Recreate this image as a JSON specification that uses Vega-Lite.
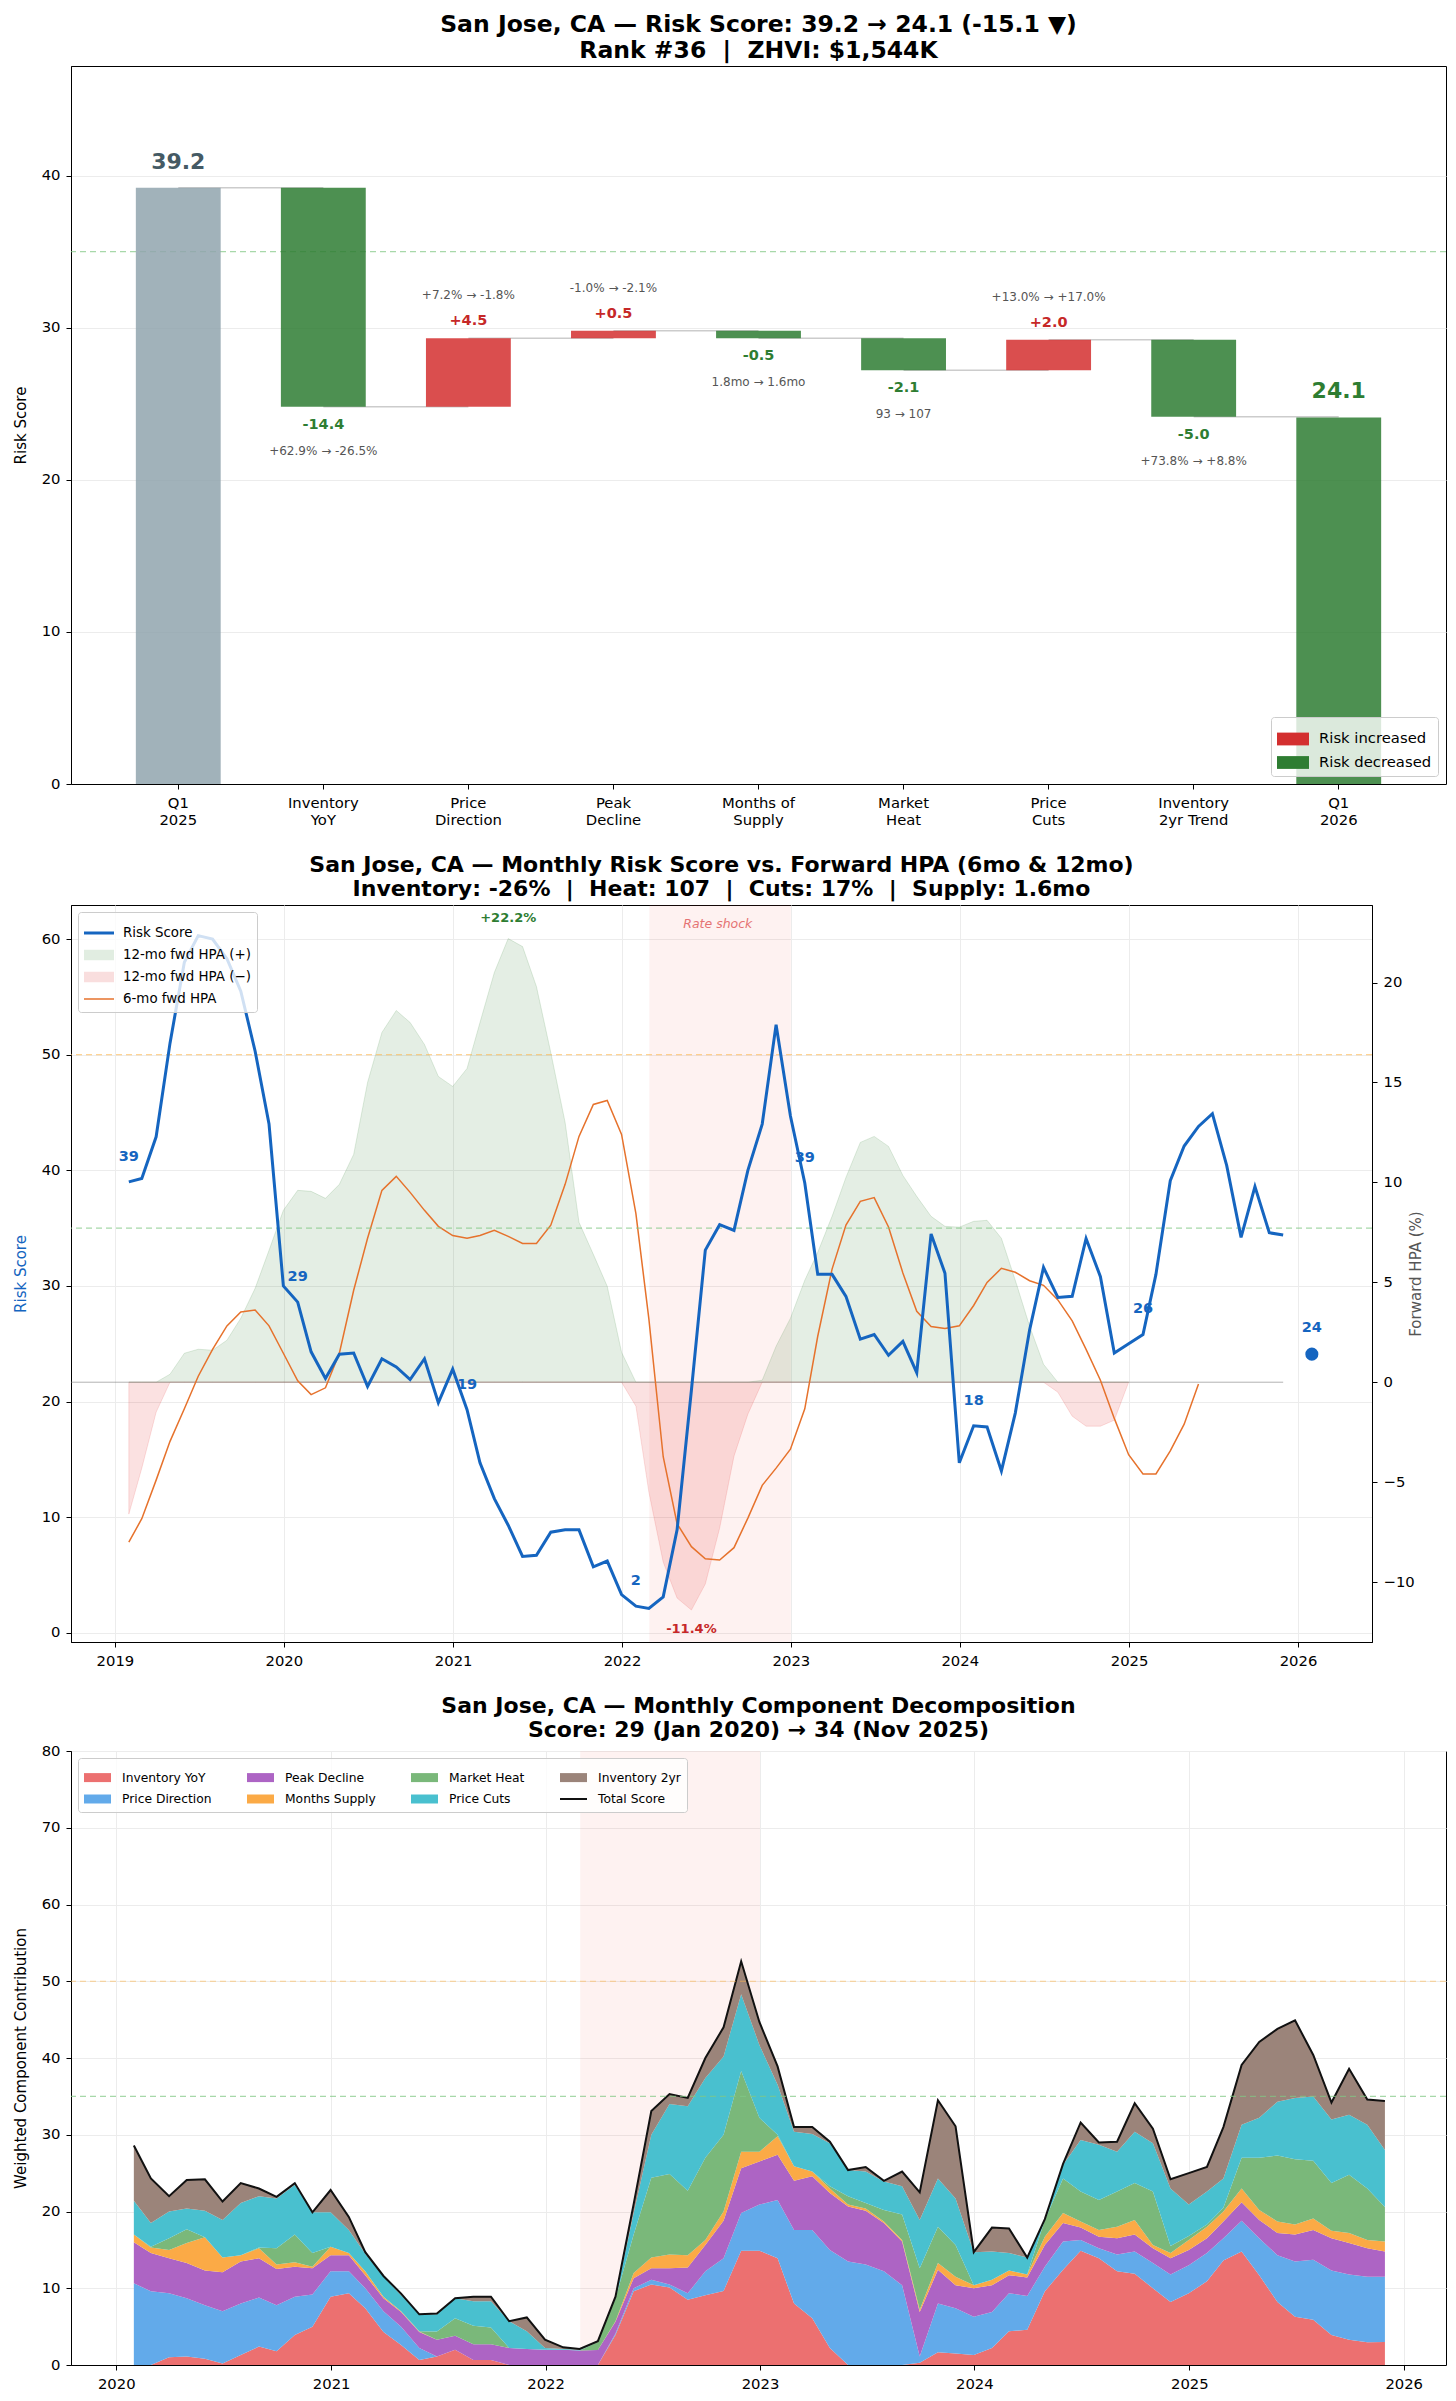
{
"$schema": "https://vega.github.io/schema/vega-lite/v6.json",
"background": "white",
"padding": {"left": 12, "top": 12, "right": 4, "bottom": 4},
"spacing": 25,
"config": {
 "font": "DejaVu Sans",
 "view": {"stroke": "#000000", "strokeWidth": 1},
 "axis": {"labelFontSize": 14.8, "labelColor": "#000000", "titleFontSize": 15, "titleFontWeight": "normal", "titleColor": "#000000", "domainColor": "#000000", "tickColor": "#000000", "tickSize": 5, "gridColor": "#ececec", "labelPadding": 6},
 "axisY": {"titlePadding": 13},
 "title": {"fontSize": 22, "fontWeight": "bold", "color": "#000000", "lineHeight": 24, "frame": "group", "anchor": "middle", "offset": 4},
 "legend": {"fillColor": "rgba(255,255,255,0.8)", "strokeColor": "#cccccc", "cornerRadius": 3, "padding": 6, "labelColor": "#000000", "symbolStrokeWidth": 0, "symbolOpacity": 1}
},
"datasets": {
 "wf": [
  {"cat": "Q1\n2025", "next": "Inventory\nYoY", "s": 0, "e": 39.2, "dir": "start", "lab": "39.2"},
  {"cat": "Inventory\nYoY", "next": "Price\nDirection", "s": 39.2, "e": 24.8, "dir": "Risk decreased", "lab": "-14.4", "det": "+62.9% → -26.5%"},
  {"cat": "Price\nDirection", "next": "Peak\nDecline", "s": 24.8, "e": 29.3, "dir": "Risk increased", "lab": "+4.5", "det": "+7.2% → -1.8%"},
  {"cat": "Peak\nDecline", "next": "Months of\nSupply", "s": 29.3, "e": 29.8, "dir": "Risk increased", "lab": "+0.5", "det": "-1.0% → -2.1%"},
  {"cat": "Months of\nSupply", "next": "Market\nHeat", "s": 29.8, "e": 29.3, "dir": "Risk decreased", "lab": "-0.5", "det": "1.8mo → 1.6mo"},
  {"cat": "Market\nHeat", "next": "Price\nCuts", "s": 29.3, "e": 27.2, "dir": "Risk decreased", "lab": "-2.1", "det": "93 → 107"},
  {"cat": "Price\nCuts", "next": "Inventory\n2yr Trend", "s": 27.2, "e": 29.2, "dir": "Risk increased", "lab": "+2.0", "det": "+13.0% → +17.0%"},
  {"cat": "Inventory\n2yr Trend", "next": "Q1\n2026", "s": 29.2, "e": 24.15, "dir": "Risk decreased", "lab": "-5.0", "det": "+73.8% → +8.8%"},
  {"cat": "Q1\n2026", "s": 0, "e": 24.1, "dir": "end", "lab": "24.1"}
 ],
 "m": [
  {"d":"2019-01-31","r":39.0,"h6":-8.0,"hp":0,"hn":-6.6},
  {"d":"2019-02-28","r":39.3,"h6":-6.83,"hp":0,"hn":-4.3},
  {"d":"2019-03-31","r":42.9,"h6":-4.9,"hp":0,"hn":-1.5},
  {"d":"2019-04-30","r":51.0,"h6":-2.96,"hp":0.4,"hn":0},
  {"d":"2019-05-31","r":58.0,"h6":-1.33,"hp":1.45,"hn":0},
  {"d":"2019-06-30","r":60.3,"h6":0.3,"hp":1.65,"hn":0},
  {"d":"2019-07-31","r":60.0,"h6":1.64,"hp":1.6,"hn":0},
  {"d":"2019-08-31","r":58.3,"h6":2.82,"hp":2.1,"hn":0},
  {"d":"2019-09-30","r":55.5,"h6":3.51,"hp":3.2,"hn":0},
  {"d":"2019-10-31","r":50.3,"h6":3.61,"hp":4.7,"hn":0},
  {"d":"2019-11-30","r":44.0,"h6":2.82,"hp":6.6,"hn":0},
  {"d":"2019-12-31","r":30.0,"h6":1.45,"hp":8.6,"hn":0},
  {"d":"2020-01-31","r":28.6,"h6":0.07,"hp":9.6,"hn":0},
  {"d":"2020-02-29","r":24.3,"h6":-0.62,"hp":9.55,"hn":0},
  {"d":"2020-03-31","r":22.0,"h6":-0.28,"hp":9.2,"hn":0},
  {"d":"2020-04-30","r":24.1,"h6":1.45,"hp":9.9,"hn":0},
  {"d":"2020-05-31","r":24.2,"h6":4.6,"hp":11.4,"hn":0},
  {"d":"2020-06-30","r":21.3,"h6":7.2,"hp":15.0,"hn":0},
  {"d":"2020-07-31","r":23.7,"h6":9.6,"hp":17.5,"hn":0},
  {"d":"2020-08-31","r":23.0,"h6":10.3,"hp":18.6,"hn":0},
  {"d":"2020-09-30","r":21.9,"h6":9.5,"hp":18.0,"hn":0},
  {"d":"2020-10-31","r":23.7,"h6":8.6,"hp":16.9,"hn":0},
  {"d":"2020-11-30","r":19.9,"h6":7.8,"hp":15.3,"hn":0},
  {"d":"2020-12-31","r":22.8,"h6":7.34,"hp":14.8,"hn":0},
  {"d":"2021-01-31","r":19.3,"h6":7.2,"hp":15.7,"hn":0},
  {"d":"2021-02-28","r":14.7,"h6":7.34,"hp":18.0,"hn":0},
  {"d":"2021-03-31","r":11.6,"h6":7.6,"hp":20.5,"hn":0},
  {"d":"2021-04-30","r":9.3,"h6":7.3,"hp":22.2,"hn":0},
  {"d":"2021-05-31","r":6.6,"h6":6.94,"hp":21.8,"hn":0},
  {"d":"2021-06-30","r":6.7,"h6":6.94,"hp":19.8,"hn":0},
  {"d":"2021-07-31","r":8.7,"h6":7.86,"hp":16.5,"hn":0},
  {"d":"2021-08-31","r":8.9,"h6":9.9,"hp":13.0,"hn":0},
  {"d":"2021-09-30","r":8.9,"h6":12.3,"hp":8.0,"hn":0},
  {"d":"2021-10-31","r":5.7,"h6":13.9,"hp":6.4,"hn":0},
  {"d":"2021-11-30","r":6.2,"h6":14.1,"hp":4.8,"hn":0},
  {"d":"2021-12-31","r":3.3,"h6":12.4,"hp":1.5,"hn":0},
  {"d":"2022-01-31","r":2.3,"h6":8.44,"hp":0,"hn":-1.2},
  {"d":"2022-02-28","r":2.1,"h6":3.17,"hp":0,"hn":-5.5},
  {"d":"2022-03-31","r":3.1,"h6":-3.73,"hp":0,"hn":-9.0},
  {"d":"2022-04-30","r":8.9,"h6":-7.08,"hp":0,"hn":-10.8},
  {"d":"2022-05-31","r":21.0,"h6":-8.23,"hp":0,"hn":-11.4},
  {"d":"2022-06-30","r":33.1,"h6":-8.84,"hp":0,"hn":-10.1},
  {"d":"2022-07-31","r":35.3,"h6":-8.9,"hp":0,"hn":-7.3},
  {"d":"2022-08-31","r":34.8,"h6":-8.28,"hp":0,"hn":-3.7},
  {"d":"2022-09-30","r":40.0,"h6":-6.8,"hp":0,"hn":-1.6},
  {"d":"2022-10-31","r":44.0,"h6":-5.16,"hp":0.1,"hn":0},
  {"d":"2022-11-30","r":52.6,"h6":-4.3,"hp":1.8,"hn":0},
  {"d":"2022-12-31","r":44.7,"h6":-3.35,"hp":3.2,"hn":0},
  {"d":"2023-01-31","r":38.9,"h6":-1.33,"hp":5.1,"hn":0},
  {"d":"2023-02-28","r":31.0,"h6":2.3,"hp":6.5,"hn":0},
  {"d":"2023-03-31","r":31.0,"h6":5.66,"hp":8.3,"hn":0},
  {"d":"2023-04-30","r":29.1,"h6":7.86,"hp":10.25,"hn":0},
  {"d":"2023-05-31","r":25.4,"h6":9.05,"hp":12.0,"hn":0},
  {"d":"2023-06-30","r":25.8,"h6":9.24,"hp":12.3,"hn":0},
  {"d":"2023-07-31","r":24.0,"h6":7.77,"hp":11.8,"hn":0},
  {"d":"2023-08-31","r":25.2,"h6":5.47,"hp":10.35,"hn":0},
  {"d":"2023-09-30","r":22.5,"h6":3.55,"hp":9.3,"hn":0},
  {"d":"2023-10-31","r":34.5,"h6":2.79,"hp":8.3,"hn":0},
  {"d":"2023-11-30","r":31.1,"h6":2.69,"hp":7.8,"hn":0},
  {"d":"2023-12-31","r":14.7,"h6":2.82,"hp":7.76,"hn":0},
  {"d":"2024-01-31","r":17.9,"h6":3.84,"hp":8.05,"hn":0},
  {"d":"2024-02-29","r":17.8,"h6":4.99,"hp":8.1,"hn":0},
  {"d":"2024-03-31","r":14.0,"h6":5.7,"hp":7.2,"hn":0},
  {"d":"2024-04-30","r":19.0,"h6":5.5,"hp":5.1,"hn":0},
  {"d":"2024-05-31","r":26.2,"h6":5.08,"hp":2.8,"hn":0},
  {"d":"2024-06-30","r":31.6,"h6":4.85,"hp":0.9,"hn":0},
  {"d":"2024-07-31","r":29.0,"h6":4.12,"hp":0,"hn":-0.5},
  {"d":"2024-08-31","r":29.1,"h6":3.07,"hp":0,"hn":-1.7},
  {"d":"2024-09-30","r":34.1,"h6":1.64,"hp":0,"hn":-2.2},
  {"d":"2024-10-31","r":30.8,"h6":0.1,"hp":0,"hn":-2.2},
  {"d":"2024-11-30","r":24.2,"h6":-1.81,"hp":0,"hn":-1.9},
  {"d":"2024-12-31","r":25.0,"h6":-3.63,"hp":0,"hn":0},
  {"d":"2025-01-31","r":25.8,"h6":-4.59},
  {"d":"2025-02-28","r":31.0,"h6":-4.59},
  {"d":"2025-03-31","r":39.1,"h6":-3.44},
  {"d":"2025-04-30","r":42.1,"h6":-2.1},
  {"d":"2025-05-31","r":43.8,"h6":-0.09},
  {"d":"2025-06-30","r":44.9},
  {"d":"2025-07-31","r":40.4},
  {"d":"2025-08-31","r":34.2},
  {"d":"2025-09-30","r":38.6},
  {"d":"2025-10-31","r":34.6},
  {"d":"2025-11-30","r":34.4}
 ],
 "c": [
  {"d":"2020-01-31","Inventory YoY":0,"Price Direction":10.65,"Peak Decline":5.35,"Months Supply":1.0,"Market Heat":0,"Price Cuts":4.4,"Inventory 2yr":7.2,"T":28.6},
  {"d":"2020-02-29","Inventory YoY":0,"Price Direction":9.6,"Peak Decline":5.0,"Months Supply":0.7,"Market Heat":0.1,"Price Cuts":3.1,"Inventory 2yr":5.8,"T":24.3},
  {"d":"2020-03-31","Inventory YoY":1.0,"Price Direction":8.35,"Peak Decline":4.55,"Months Supply":1.1,"Market Heat":1.5,"Price Cuts":3.5,"Inventory 2yr":2.0,"T":22.0},
  {"d":"2020-04-30","Inventory YoY":1.1,"Price Direction":7.6,"Peak Decline":4.6,"Months Supply":2.6,"Market Heat":1.8,"Price Cuts":2.7,"Inventory 2yr":3.7,"T":24.1},
  {"d":"2020-05-31","Inventory YoY":0.8,"Price Direction":7.0,"Peak Decline":4.5,"Months Supply":4.35,"Market Heat":0,"Price Cuts":3.45,"Inventory 2yr":4.1,"T":24.2},
  {"d":"2020-06-30","Inventory YoY":0.2,"Price Direction":6.8,"Peak Decline":5.1,"Months Supply":1.9,"Market Heat":0,"Price Cuts":4.9,"Inventory 2yr":2.4,"T":21.3},
  {"d":"2020-07-31","Inventory YoY":1.3,"Price Direction":6.7,"Peak Decline":5.5,"Months Supply":0.8,"Market Heat":0,"Price Cuts":6.8,"Inventory 2yr":2.6,"T":23.7},
  {"d":"2020-08-31","Inventory YoY":2.4,"Price Direction":6.4,"Peak Decline":5.1,"Months Supply":1.3,"Market Heat":0.1,"Price Cuts":6.7,"Inventory 2yr":1.0,"T":23.0},
  {"d":"2020-09-30","Inventory YoY":1.8,"Price Direction":6.0,"Peak Decline":4.7,"Months Supply":0.6,"Market Heat":2.1,"Price Cuts":6.5,"Inventory 2yr":0.2,"T":21.9},
  {"d":"2020-10-31","Inventory YoY":3.9,"Price Direction":5.0,"Peak Decline":3.9,"Months Supply":0.6,"Market Heat":3.6,"Price Cuts":6.5,"Inventory 2yr":0.2,"T":23.7},
  {"d":"2020-11-30","Inventory YoY":5.0,"Price Direction":4.2,"Peak Decline":3.4,"Months Supply":0.2,"Market Heat":1.8,"Price Cuts":5.3,"Inventory 2yr":0,"T":19.9},
  {"d":"2020-12-31","Inventory YoY":8.9,"Price Direction":3.3,"Peak Decline":2.1,"Months Supply":1.1,"Market Heat":0,"Price Cuts":4.5,"Inventory 2yr":2.9,"T":22.8},
  {"d":"2021-01-31","Inventory YoY":9.35,"Price Direction":2.85,"Peak Decline":2.1,"Months Supply":0.3,"Market Heat":0,"Price Cuts":3.0,"Inventory 2yr":1.7,"T":19.3},
  {"d":"2021-02-28","Inventory YoY":7.4,"Price Direction":2.6,"Peak Decline":1.7,"Months Supply":0.5,"Market Heat":0,"Price Cuts":2.3,"Inventory 2yr":0.2,"T":14.7},
  {"d":"2021-03-31","Inventory YoY":4.3,"Price Direction":2.7,"Peak Decline":1.7,"Months Supply":0.2,"Market Heat":0,"Price Cuts":2.6,"Inventory 2yr":0.1,"T":11.6},
  {"d":"2021-04-30","Inventory YoY":2.6,"Price Direction":2.4,"Peak Decline":1.9,"Months Supply":0.1,"Market Heat":0,"Price Cuts":2.1,"Inventory 2yr":0.2,"T":9.3},
  {"d":"2021-05-31","Inventory YoY":0.65,"Price Direction":1.55,"Peak Decline":2.1,"Months Supply":0.05,"Market Heat":0.05,"Price Cuts":2.2,"Inventory 2yr":0,"T":6.6},
  {"d":"2021-06-30","Inventory YoY":1.1,"Price Direction":0,"Peak Decline":2.2,"Months Supply":0,"Market Heat":1.05,"Price Cuts":2.25,"Inventory 2yr":0.1,"T":6.7},
  {"d":"2021-07-31","Inventory YoY":2.0,"Price Direction":0,"Peak Decline":1.8,"Months Supply":0,"Market Heat":2.3,"Price Cuts":2.6,"Inventory 2yr":0,"T":8.7},
  {"d":"2021-08-31","Inventory YoY":0.65,"Price Direction":0,"Peak Decline":2.05,"Months Supply":0,"Market Heat":2.4,"Price Cuts":3.2,"Inventory 2yr":0.6,"T":8.9},
  {"d":"2021-09-30","Inventory YoY":0.65,"Price Direction":0,"Peak Decline":2.05,"Months Supply":0,"Market Heat":2.2,"Price Cuts":3.4,"Inventory 2yr":0.6,"T":8.9},
  {"d":"2021-10-31","Inventory YoY":0,"Price Direction":0,"Peak Decline":2.2,"Months Supply":0,"Market Heat":0,"Price Cuts":3.5,"Inventory 2yr":0,"T":5.7},
  {"d":"2021-11-30","Inventory YoY":0,"Price Direction":0,"Peak Decline":2.1,"Months Supply":0,"Market Heat":0,"Price Cuts":2.3,"Inventory 2yr":1.8,"T":6.2},
  {"d":"2021-12-31","Inventory YoY":0,"Price Direction":0,"Peak Decline":2.0,"Months Supply":0,"Market Heat":0,"Price Cuts":0.2,"Inventory 2yr":1.1,"T":3.3},
  {"d":"2022-01-31","Inventory YoY":0,"Price Direction":0,"Peak Decline":2.0,"Months Supply":0,"Market Heat":0,"Price Cuts":0.1,"Inventory 2yr":0.2,"T":2.3},
  {"d":"2022-02-28","Inventory YoY":0,"Price Direction":0,"Peak Decline":1.9,"Months Supply":0,"Market Heat":0,"Price Cuts":0.1,"Inventory 2yr":0.1,"T":2.1},
  {"d":"2022-03-31","Inventory YoY":0,"Price Direction":0,"Peak Decline":1.95,"Months Supply":0,"Market Heat":1.05,"Price Cuts":0,"Inventory 2yr":0.1,"T":3.1},
  {"d":"2022-04-30","Inventory YoY":3.9,"Price Direction":0.2,"Peak Decline":1.55,"Months Supply":0.05,"Market Heat":3.0,"Price Cuts":0.1,"Inventory 2yr":0.1,"T":8.9},
  {"d":"2022-05-31","Inventory YoY":9.6,"Price Direction":0.4,"Peak Decline":1.3,"Months Supply":0.7,"Market Heat":5.0,"Price Cuts":2.8,"Inventory 2yr":1.2,"T":21.0},
  {"d":"2022-06-30","Inventory YoY":10.5,"Price Direction":0.6,"Peak Decline":1.5,"Months Supply":1.4,"Market Heat":10.4,"Price Cuts":5.6,"Inventory 2yr":3.1,"T":33.1},
  {"d":"2022-07-31","Inventory YoY":10.1,"Price Direction":0.4,"Peak Decline":2.1,"Months Supply":1.8,"Market Heat":10.5,"Price Cuts":9.1,"Inventory 2yr":1.3,"T":35.3},
  {"d":"2022-08-31","Inventory YoY":8.5,"Price Direction":0.85,"Peak Decline":3.35,"Months Supply":1.6,"Market Heat":8.4,"Price Cuts":11.0,"Inventory 2yr":1.1,"T":34.8},
  {"d":"2022-09-30","Inventory YoY":9.1,"Price Direction":3.1,"Peak Decline":3.45,"Months Supply":0.65,"Market Heat":10.7,"Price Cuts":10.4,"Inventory 2yr":2.6,"T":40.0},
  {"d":"2022-10-31","Inventory YoY":9.65,"Price Direction":4.25,"Peak Decline":4.9,"Months Supply":1.2,"Market Heat":10.0,"Price Cuts":10.2,"Inventory 2yr":3.8,"T":44.0},
  {"d":"2022-11-30","Inventory YoY":14.9,"Price Direction":4.9,"Peak Decline":5.85,"Months Supply":2.15,"Market Heat":10.5,"Price Cuts":10.0,"Inventory 2yr":4.3,"T":52.6},
  {"d":"2022-12-31","Inventory YoY":14.9,"Price Direction":6.0,"Peak Decline":5.6,"Months Supply":1.3,"Market Heat":4.4,"Price Cuts":9.5,"Inventory 2yr":3.0,"T":44.7},
  {"d":"2023-01-31","Inventory YoY":13.9,"Price Direction":7.6,"Peak Decline":5.9,"Months Supply":2.4,"Market Heat":0.2,"Price Cuts":6.5,"Inventory 2yr":2.4,"T":38.9},
  {"d":"2023-02-28","Inventory YoY":8.0,"Price Direction":9.6,"Peak Decline":6.4,"Months Supply":1.9,"Market Heat":0,"Price Cuts":4.5,"Inventory 2yr":0.6,"T":31.0},
  {"d":"2023-03-31","Inventory YoY":6.1,"Price Direction":11.5,"Peak Decline":7.0,"Months Supply":0.6,"Market Heat":0,"Price Cuts":4.9,"Inventory 2yr":0.9,"T":31.0},
  {"d":"2023-04-30","Inventory YoY":2.2,"Price Direction":12.8,"Peak Decline":7.4,"Months Supply":0.6,"Market Heat":0.3,"Price Cuts":5.6,"Inventory 2yr":0.2,"T":29.1},
  {"d":"2023-05-31","Inventory YoY":0,"Price Direction":13.5,"Peak Decline":7.15,"Months Supply":0.25,"Market Heat":1.1,"Price Cuts":3.4,"Inventory 2yr":0,"T":25.4},
  {"d":"2023-06-30","Inventory YoY":0,"Price Direction":13.1,"Peak Decline":7.0,"Months Supply":0.3,"Market Heat":0.7,"Price Cuts":4.1,"Inventory 2yr":0.6,"T":25.8},
  {"d":"2023-07-31","Inventory YoY":0,"Price Direction":12.2,"Peak Decline":6.3,"Months Supply":0.2,"Market Heat":1.5,"Price Cuts":3.7,"Inventory 2yr":0.1,"T":24.0},
  {"d":"2023-08-31","Inventory YoY":0,"Price Direction":10.4,"Peak Decline":5.7,"Months Supply":0.2,"Market Heat":3.3,"Price Cuts":3.7,"Inventory 2yr":1.9,"T":25.2},
  {"d":"2023-09-30","Inventory YoY":0.3,"Price Direction":0.8,"Peak Decline":5.8,"Months Supply":0.3,"Market Heat":5.4,"Price Cuts":6.3,"Inventory 2yr":3.6,"T":22.5},
  {"d":"2023-10-31","Inventory YoY":1.65,"Price Direction":6.35,"Peak Decline":4.4,"Months Supply":0.9,"Market Heat":4.7,"Price Cuts":6.3,"Inventory 2yr":10.2,"T":34.5},
  {"d":"2023-11-30","Inventory YoY":1.5,"Price Direction":5.9,"Peak Decline":3.0,"Months Supply":1.1,"Market Heat":4.15,"Price Cuts":6.05,"Inventory 2yr":9.4,"T":31.1},
  {"d":"2023-12-31","Inventory YoY":1.3,"Price Direction":5.0,"Peak Decline":3.7,"Months Supply":0.4,"Market Heat":0,"Price Cuts":4.3,"Inventory 2yr":0,"T":14.7},
  {"d":"2024-01-31","Inventory YoY":2.2,"Price Direction":4.7,"Peak Decline":3.5,"Months Supply":0.7,"Market Heat":0,"Price Cuts":3.7,"Inventory 2yr":3.1,"T":17.9},
  {"d":"2024-02-29","Inventory YoY":4.4,"Price Direction":4.95,"Peak Decline":2.35,"Months Supply":0.6,"Market Heat":0,"Price Cuts":2.3,"Inventory 2yr":3.2,"T":17.8},
  {"d":"2024-03-31","Inventory YoY":4.6,"Price Direction":4.4,"Peak Decline":2.4,"Months Supply":0.4,"Market Heat":0,"Price Cuts":2.2,"Inventory 2yr":0,"T":14.0},
  {"d":"2024-04-30","Inventory YoY":9.6,"Price Direction":3.2,"Peak Decline":2.85,"Months Supply":1.05,"Market Heat":2.2,"Price Cuts":0.1,"Inventory 2yr":0,"T":19.0},
  {"d":"2024-05-31","Inventory YoY":12.4,"Price Direction":3.7,"Peak Decline":2.4,"Months Supply":1.3,"Market Heat":4.5,"Price Cuts":1.8,"Inventory 2yr":0.1,"T":26.2},
  {"d":"2024-06-30","Inventory YoY":14.9,"Price Direction":1.4,"Peak Decline":1.6,"Months Supply":0.8,"Market Heat":3.9,"Price Cuts":6.7,"Inventory 2yr":2.3,"T":31.6},
  {"d":"2024-07-31","Inventory YoY":13.9,"Price Direction":1.3,"Peak Decline":1.5,"Months Supply":0.9,"Market Heat":3.9,"Price Cuts":7.2,"Inventory 2yr":0.3,"T":29.0},
  {"d":"2024-08-31","Inventory YoY":12.2,"Price Direction":2.2,"Peak Decline":2.1,"Months Supply":1.5,"Market Heat":4.6,"Price Cuts":5.2,"Inventory 2yr":1.3,"T":29.1},
  {"d":"2024-09-30","Inventory YoY":11.9,"Price Direction":2.9,"Peak Decline":2.2,"Months Supply":1.9,"Market Heat":4.8,"Price Cuts":6.7,"Inventory 2yr":3.7,"T":34.1},
  {"d":"2024-10-31","Inventory YoY":10.0,"Price Direction":3.3,"Peak Decline":1.9,"Months Supply":0.45,"Market Heat":6.95,"Price Cuts":6.3,"Inventory 2yr":1.9,"T":30.8},
  {"d":"2024-11-30","Inventory YoY":8.2,"Price Direction":3.6,"Peak Decline":2.1,"Months Supply":0.7,"Market Heat":0.9,"Price Cuts":7.5,"Inventory 2yr":1.2,"T":24.2},
  {"d":"2024-12-31","Inventory YoY":9.35,"Price Direction":3.65,"Peak Decline":2.0,"Months Supply":1.3,"Market Heat":0.5,"Price Cuts":4.1,"Inventory 2yr":4.1,"T":25.0},
  {"d":"2025-01-31","Inventory YoY":10.9,"Price Direction":3.7,"Peak Decline":1.9,"Months Supply":1.5,"Market Heat":0.3,"Price Cuts":4.3,"Inventory 2yr":3.2,"T":25.8},
  {"d":"2025-02-28","Inventory YoY":13.6,"Price Direction":2.9,"Peak Decline":2.2,"Months Supply":1.3,"Market Heat":0.5,"Price Cuts":3.8,"Inventory 2yr":6.7,"T":31.0},
  {"d":"2025-03-31","Inventory YoY":14.8,"Price Direction":4.0,"Peak Decline":2.4,"Months Supply":1.8,"Market Heat":4.0,"Price Cuts":4.3,"Inventory 2yr":7.8,"T":39.1},
  {"d":"2025-04-30","Inventory YoY":11.7,"Price Direction":4.8,"Peak Decline":2.4,"Months Supply":1.3,"Market Heat":6.8,"Price Cuts":5.2,"Inventory 2yr":9.9,"T":42.1},
  {"d":"2025-05-31","Inventory YoY":8.2,"Price Direction":6.1,"Peak Decline":2.9,"Months Supply":1.5,"Market Heat":8.6,"Price Cuts":7.0,"Inventory 2yr":9.5,"T":43.8},
  {"d":"2025-06-30","Inventory YoY":6.3,"Price Direction":7.2,"Peak Decline":3.5,"Months Supply":1.3,"Market Heat":8.5,"Price Cuts":8.0,"Inventory 2yr":10.1,"T":44.9},
  {"d":"2025-07-31","Inventory YoY":5.9,"Price Direction":7.8,"Peak Decline":3.9,"Months Supply":1.5,"Market Heat":7.5,"Price Cuts":8.4,"Inventory 2yr":5.4,"T":40.4},
  {"d":"2025-08-31","Inventory YoY":3.9,"Price Direction":8.4,"Peak Decline":4.2,"Months Supply":1.0,"Market Heat":6.2,"Price Cuts":8.3,"Inventory 2yr":2.2,"T":34.2},
  {"d":"2025-09-30","Inventory YoY":3.3,"Price Direction":8.5,"Peak Decline":4.1,"Months Supply":1.3,"Market Heat":7.6,"Price Cuts":7.8,"Inventory 2yr":6.0,"T":38.6},
  {"d":"2025-10-31","Inventory YoY":2.96,"Price Direction":8.54,"Peak Decline":3.7,"Months Supply":1.1,"Market Heat":6.7,"Price Cuts":8.3,"Inventory 2yr":3.3,"T":34.6},
  {"d":"2025-11-30","Inventory YoY":3.0,"Price Direction":8.5,"Peak Decline":3.3,"Months Supply":1.3,"Market Heat":4.5,"Price Cuts":7.4,"Inventory 2yr":6.4,"T":34.4}
 ]
},
"vconcat": [
 {
  "width": 1375, "height": 718,
  "title": {"text": ["San Jose, CA — Risk Score: 39.2 → 24.1 (-15.1 ▼)", "Rank #36\u00a0 |\u00a0 ZHVI: $1,544K"], "fontSize": 23.5, "lineHeight": 26},
  "layer": [
   {"data": {"values": [{}]}, "mark": {"type": "rule", "color": "#81c784", "strokeDash": [6, 4], "strokeWidth": 1.2, "opacity": 0.7},
    "encoding": {"y": {"datum": 35, "type": "quantitative", "title": "Risk Score", "scale": {"domain": [0, 47.2], "nice": false}, "axis": {"values": [0, 10, 20, 30, 40], "grid": true}}}},
   {"data": {"name": "wf"}, "transform": [{"filter": "isValid(datum.next)"}], "mark": {"type": "rule", "color": "#cccccc", "strokeWidth": 1.5},
    "encoding": {
     "x": {"field": "cat", "type": "nominal", "title": null, "scale": {"domain": ["Q1\n2025", "Inventory\nYoY", "Price\nDirection", "Peak\nDecline", "Months of\nSupply", "Market\nHeat", "Price\nCuts", "Inventory\n2yr Trend", "Q1\n2026"], "paddingInner": 0.415, "paddingOuter": 0.447}, "axis": {"labelAngle": 0, "labelExpr": "split(datum.value, '\\n')", "labelLineHeight": 17.7, "labelPadding": 6, "grid": false}},
     "x2": {"field": "next"},
     "y": {"field": "e", "type": "quantitative", "title": "Risk Score", "scale": {"domain": [0, 47.2], "nice": false}}}},
   {"data": {"name": "wf"}, "mark": {"type": "bar", "opacity": 0.85},
    "encoding": {
     "x": {"field": "cat", "type": "nominal", "title": null},
     "y": {"field": "s", "type": "quantitative", "title": "Risk Score", "scale": {"domain": [0, 47.2], "nice": false}},
     "y2": {"field": "e"},
     "color": {"field": "dir", "type": "nominal", "scale": {"domain": ["Risk increased", "Risk decreased", "start", "end"], "range": ["#d32f2f", "#2e7d32", "#90a4ae", "#2e7d32"]},
      "legend": {"title": null, "orient": "bottom-right", "offset": 8, "values": ["Risk increased", "Risk decreased"], "symbolType": "M-1,-0.4H1V0.4H-1Z", "symbolSize": 1024, "labelFontSize": 14.8, "rowPadding": 0.5, "labelOffset": 10}}}},
   {"data": {"name": "wf"}, "transform": [{"filter": "datum.dir === 'start' || datum.dir === 'end'"}], "mark": {"type": "text", "fontSize": 22, "fontWeight": "bold", "dy": -26, "baseline": "middle"},
    "encoding": {"x": {"field": "cat", "type": "nominal", "title": null}, "y": {"field": "e", "type": "quantitative", "title": "Risk Score"}, "text": {"field": "lab"},
     "color": {"condition": {"test": "datum.dir === 'start'", "value": "#455a64"}, "value": "#2e7d32"}}},
   {"data": {"name": "wf"}, "transform": [{"filter": "datum.dir === 'Risk increased'"}], "mark": {"type": "text", "fontSize": 14.5, "fontWeight": "bold", "dy": -17, "baseline": "middle", "color": "#c62828"},
    "encoding": {"x": {"field": "cat", "type": "nominal", "title": null}, "y": {"field": "e", "type": "quantitative", "title": "Risk Score"}, "text": {"field": "lab"}}},
   {"data": {"name": "wf"}, "transform": [{"filter": "datum.dir === 'Risk increased'"}], "mark": {"type": "text", "fontSize": 12, "dy": -43, "baseline": "middle", "color": "#555555"},
    "encoding": {"x": {"field": "cat", "type": "nominal", "title": null}, "y": {"field": "e", "type": "quantitative", "title": "Risk Score"}, "text": {"field": "det"}}},
   {"data": {"name": "wf"}, "transform": [{"filter": "datum.dir === 'Risk decreased'"}], "mark": {"type": "text", "fontSize": 14.5, "fontWeight": "bold", "dy": 18, "baseline": "middle", "color": "#2e7d32"},
    "encoding": {"x": {"field": "cat", "type": "nominal", "title": null}, "y": {"field": "e", "type": "quantitative", "title": "Risk Score"}, "text": {"field": "lab"}}},
   {"data": {"name": "wf"}, "transform": [{"filter": "datum.dir === 'Risk decreased'"}], "mark": {"type": "text", "fontSize": 12, "dy": 44, "baseline": "middle", "color": "#555555"},
    "encoding": {"x": {"field": "cat", "type": "nominal", "title": null}, "y": {"field": "e", "type": "quantitative", "title": "Risk Score"}, "text": {"field": "det"}}}
  ]
 },
 {
  "width": 1301, "height": 737,
  "title": {"text": ["San Jose, CA — Monthly Risk Score vs. Forward HPA (6mo & 12mo)", "Inventory: -26%\u00a0 |\u00a0 Heat: 107\u00a0 |\u00a0 Cuts: 17%\u00a0 |\u00a0 Supply: 1.6mo"]},
  "layer": [
   {"layer": [
     {"data": {"values": [{"a": "2022-03-01", "b": "2023-01-01"}]}, "mark": {"type": "rect", "color": "#ef5350", "opacity": 0.08},
      "encoding": {"x": {"field": "a", "type": "temporal", "title": null, "scale": {"type": "utc", "domain": [{"year": 2018, "month": 9, "date": 28, "utc": true}, {"year": 2026, "month": 6, "date": 10, "utc": true}], "nice": false}, "axis": {"format": "%Y", "tickCount": {"interval": "year", "step": 1}, "grid": true, "labelFlush": false}}, "x2": {"field": "b"}}},
     {"data": {"name": "m"}, "mark": {"type": "area", "color": "#2e7d32", "fillOpacity": 0.13, "stroke": "#2e7d32", "strokeOpacity": 0.15, "strokeWidth": 1},
      "encoding": {"x": {"field": "d", "type": "temporal", "title": null}, "y": {"field": "hp", "type": "quantitative", "title": "Forward HPA (%)", "scale": {"domain": [-13.0, 23.88], "nice": false, "zero": false}, "axis": {"orient": "right", "values": [-10, -5, 0, 5, 10, 15, 20], "grid": false, "titleColor": "#555555", "titleAngle": 270, "titlePadding": 9}}, "y2": {"datum": 0}}},
     {"data": {"name": "m"}, "mark": {"type": "area", "color": "#e53935", "fillOpacity": 0.15, "stroke": "#e53935", "strokeOpacity": 0.15, "strokeWidth": 1},
      "encoding": {"x": {"field": "d", "type": "temporal", "title": null}, "y": {"field": "hn", "type": "quantitative", "title": "Forward HPA (%)"}, "y2": {"datum": 0}}},
     {"data": {"values": [{"a": "2018-09-28", "b": "2025-11-30"}]}, "mark": {"type": "rule", "color": "#808080", "strokeWidth": 1, "opacity": 0.6},
      "encoding": {"x": {"field": "a", "type": "temporal", "title": null}, "x2": {"field": "b"}, "y": {"datum": 0, "type": "quantitative", "title": "Forward HPA (%)"}}},
     {"data": {"name": "m"}, "mark": {"type": "line", "color": "#e6722c", "strokeWidth": 1.5},
      "encoding": {"x": {"field": "d", "type": "temporal", "title": null}, "y": {"field": "h6", "type": "quantitative", "title": "Forward HPA (%)"}}},
     {"data": {"values": [{"d": "2021-04-30", "v": 22.2, "t": "+22.2%"}]}, "mark": {"type": "text", "color": "#2e7d32", "fontWeight": "bold", "fontSize": 13, "dy": -21},
      "encoding": {"x": {"field": "d", "type": "temporal", "title": null}, "y": {"field": "v", "type": "quantitative", "title": "Forward HPA (%)"}, "text": {"field": "t"}}},
     {"data": {"values": [{"d": "2022-05-31", "v": -11.4, "t": "-11.4%"}]}, "mark": {"type": "text", "color": "#c62828", "fontWeight": "bold", "fontSize": 13, "dy": 19},
      "encoding": {"x": {"field": "d", "type": "temporal", "title": null}, "y": {"field": "v", "type": "quantitative", "title": "Forward HPA (%)"}, "text": {"field": "t"}}}
   ]},
   {"layer": [
     {"data": {"values": [{}]}, "mark": {"type": "rule", "color": "#ffb74d", "strokeDash": [6, 4], "strokeWidth": 1.2, "opacity": 0.6},
      "encoding": {"y": {"datum": 50, "type": "quantitative", "title": "Risk Score", "scale": {"domain": [-0.8, 62.95], "nice": false, "zero": false}, "axis": {"values": [0, 10, 20, 30, 40, 50, 60], "grid": true, "titleColor": "#1565c0"}}}},
     {"data": {"values": [{}]}, "mark": {"type": "rule", "color": "#81c784", "strokeDash": [6, 4], "strokeWidth": 1.2, "opacity": 0.7},
      "encoding": {"y": {"datum": 35, "type": "quantitative", "title": "Risk Score"}}},
     {"data": {"values": [{"d": "2022-07-27", "v": 61.3}]}, "mark": {"type": "text", "text": "Rate shock", "fontStyle": "italic", "fontSize": 12.5, "color": "#e57373"},
      "encoding": {"x": {"field": "d", "type": "temporal", "title": null}, "y": {"field": "v", "type": "quantitative", "title": "Risk Score"}}},
     {"data": {"name": "m"}, "mark": {"type": "line", "color": "#1565c0", "strokeWidth": 3},
      "encoding": {"x": {"field": "d", "type": "temporal", "title": null}, "y": {"field": "r", "type": "quantitative", "title": "Risk Score"}}},
     {"data": {"name": "m"}, "transform": [{"filter": "utcmonth(datum.d) === 0"}], "mark": {"type": "text", "color": "#1565c0", "fontWeight": "bold", "fontSize": 14.5, "dy": -25},
      "encoding": {"x": {"field": "d", "type": "temporal", "title": null}, "y": {"field": "r", "type": "quantitative", "title": "Risk Score"}, "text": {"field": "r", "type": "quantitative", "format": ".0f"}}},
     {"data": {"values": [{"d": "2026-01-31", "v": 24.1}]}, "mark": {"type": "point", "filled": true, "size": 170, "color": "#1565c0", "opacity": 1},
      "encoding": {"x": {"field": "d", "type": "temporal", "title": null}, "y": {"field": "v", "type": "quantitative", "title": "Risk Score"}}},
     {"data": {"values": [{"d": "2026-01-31", "v": 24.1}]}, "mark": {"type": "text", "color": "#1565c0", "fontWeight": "bold", "fontSize": 14.5, "dy": -26},
      "encoding": {"x": {"field": "d", "type": "temporal", "title": null}, "y": {"field": "v", "type": "quantitative", "title": "Risk Score"}, "text": {"field": "v", "type": "quantitative", "format": ".0f"}}},
     {"data": {"values": [{"n": "Risk Score"}, {"n": "12-mo fwd HPA (+)"}, {"n": "12-mo fwd HPA (−)"}, {"n": "6-mo fwd HPA"}]},
      "mark": {"type": "point", "filled": true, "opacity": 0},
      "encoding": {
       "color": {"field": "n", "type": "nominal", "scale": {"domain": ["Risk Score", "12-mo fwd HPA (+)", "12-mo fwd HPA (−)", "6-mo fwd HPA"], "range": ["#1565c0", "#e1ede1", "#f9dede", "#e6722c"]},
        "legend": {"title": null, "orient": "top-left", "offset": 7, "symbolSize": 900, "labelFontSize": 13.4, "rowPadding": 0, "labelOffset": 9}},
       "shape": {"field": "n", "type": "nominal", "scale": {"domain": ["Risk Score", "12-mo fwd HPA (+)", "12-mo fwd HPA (−)", "6-mo fwd HPA"], "range": ["M-1,-0.1H1V0.1H-1Z", "M-1,-0.35H1V0.35H-1Z", "M-1,-0.35H1V0.35H-1Z", "M-1,-0.05H1V0.05H-1Z"]},
        "legend": {"title": null, "orient": "top-left", "offset": 7, "symbolSize": 900, "labelFontSize": 13.4, "rowPadding": 0, "labelOffset": 9}}}}
   ]}
  ],
  "resolve": {"scale": {"y": "independent"}}
 },
 {
  "width": 1375, "height": 614,
  "title": {"text": ["San Jose, CA — Monthly Component Decomposition", "Score: 29 (Jan 2020) → 34 (Nov 2025)"], "offset": 1},
  "layer": [
   {"data": {"values": [{"a": "2022-03-01", "b": "2023-01-01"}]}, "mark": {"type": "rect", "color": "#ef5350", "opacity": 0.08},
    "encoding": {"x": {"field": "a", "type": "temporal", "title": null, "scale": {"type": "utc", "domain": [{"year": 2019, "month": 10, "date": 16, "utc": true}, {"year": 2026, "month": 3, "date": 14, "utc": true}], "nice": false}, "axis": {"format": "%Y", "tickCount": {"interval": "year", "step": 1}, "grid": true, "labelFlush": false}}, "x2": {"field": "b"}}},
   {"data": {"name": "c"},
    "transform": [
     {"fold": ["Inventory YoY", "Price Direction", "Peak Decline", "Months Supply", "Market Heat", "Price Cuts", "Inventory 2yr"], "as": ["comp", "v"]},
     {"window": [{"op": "row_number", "as": "rk"}], "groupby": ["d"]}
    ],
    "mark": {"type": "area"},
    "encoding": {
     "x": {"field": "d", "type": "temporal", "title": null},
     "y": {"field": "v", "type": "quantitative", "stack": "zero", "title": "Weighted Component Contribution", "scale": {"domain": [0, 80], "nice": false}, "axis": {"values": [0, 10, 20, 30, 40, 50, 60, 70, 80], "grid": true}},
     "color": {"field": "comp", "type": "nominal", "scale": {"domain": ["Inventory YoY", "Price Direction", "Peak Decline", "Months Supply", "Market Heat", "Price Cuts", "Inventory 2yr", "Total Score"], "range": ["#ec7070", "#62aaea", "#ad64c4", "#fbaa46", "#7ab87a", "#49c0cf", "#9b847a", "#111111"]},
      "legend": {"title": null, "orient": "top-left", "offset": 7, "columns": 4, "columnPadding": 35, "symbolType": "M-1,-0.333H1V0.333H-1Z", "symbolSize": 729, "labelFontSize": 12.3, "rowPadding": 1.5, "labelOffset": 11}},
     "order": {"field": "rk", "type": "quantitative"}}},
   {"data": {"name": "c"}, "mark": {"type": "line", "color": "#111111", "strokeWidth": 2},
    "encoding": {"x": {"field": "d", "type": "temporal", "title": null}, "y": {"field": "T", "type": "quantitative", "title": "Weighted Component Contribution"}}},
   {"data": {"values": [{}]}, "mark": {"type": "rule", "color": "#ffb74d", "strokeDash": [6, 4], "strokeWidth": 1.2, "opacity": 0.6},
    "encoding": {"y": {"datum": 50, "type": "quantitative", "title": "Weighted Component Contribution"}}},
   {"data": {"values": [{}]}, "mark": {"type": "rule", "color": "#81c784", "strokeDash": [6, 4], "strokeWidth": 1.2, "opacity": 0.7},
    "encoding": {"y": {"datum": 35, "type": "quantitative", "title": "Weighted Component Contribution"}}},
   {"data": {"values": [{"n": "Inventory YoY"}, {"n": "Price Direction"}, {"n": "Peak Decline"}, {"n": "Months Supply"}, {"n": "Market Heat"}, {"n": "Price Cuts"}, {"n": "Inventory 2yr"}, {"n": "Total Score"}]},
    "mark": {"type": "point", "filled": true, "opacity": 0},
    "encoding": {
     "color": {"field": "n", "type": "nominal", "scale": {"domain": ["Inventory YoY", "Price Direction", "Peak Decline", "Months Supply", "Market Heat", "Price Cuts", "Inventory 2yr", "Total Score"], "range": ["#ec7070", "#62aaea", "#ad64c4", "#fbaa46", "#7ab87a", "#49c0cf", "#9b847a", "#111111"]},
      "legend": {"title": null, "orient": "top-left", "offset": 7, "columns": 4, "columnPadding": 35, "symbolType": "M-1,-0.333H1V0.333H-1Z", "symbolSize": 729, "labelFontSize": 12.3, "rowPadding": 1.5, "labelOffset": 11}},
     "shape": {"field": "n", "type": "nominal", "scale": {"domain": ["Inventory YoY", "Price Direction", "Peak Decline", "Months Supply", "Market Heat", "Price Cuts", "Inventory 2yr", "Total Score"], "range": ["M-1,-0.333H1V0.333H-1Z", "M-1,-0.333H1V0.333H-1Z", "M-1,-0.333H1V0.333H-1Z", "M-1,-0.333H1V0.333H-1Z", "M-1,-0.333H1V0.333H-1Z", "M-1,-0.333H1V0.333H-1Z", "M-1,-0.333H1V0.333H-1Z", "M-1,-0.075H1V0.075H-1Z"]},
      "legend": {"title": null, "orient": "top-left", "offset": 7, "columns": 4, "columnPadding": 35, "symbolType": "M-1,-0.333H1V0.333H-1Z", "symbolSize": 729, "labelFontSize": 12.3, "rowPadding": 1.5, "labelOffset": 11}}}}
  ]
 }
],
"resolve": {"scale": {"color": "independent", "shape": "independent"}}
}
